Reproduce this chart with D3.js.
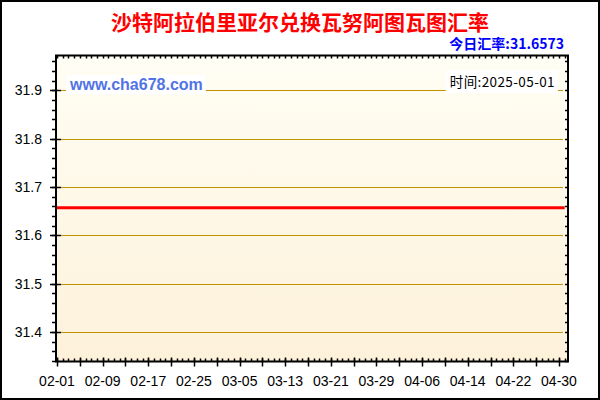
<!DOCTYPE html>
<html>
<head>
<meta charset="utf-8">
<script src="https://cdn.jsdelivr.net/npm/d3@7"></script>
<style>
  body { margin: 0; background: #fff; }
</style>
</head>
<body>
<div id="chart"></div>
<script>
// chart data
const title = "沙特阿拉伯里亚尔兑换瓦努阿图瓦图汇率";
const rateText = "今日汇率:31.6573";
const stampText = "时间:2025-05-01";
const siteText = "www.cha678.com";
const dates = ["2025-02-01", "2025-05-01"]; // rate is flat over the whole period
const rates = [31.6573, 31.6573];
const yTicks = [31.4, 31.5, 31.6, 31.7, 31.8, 31.9];
const xTickLabels = ["02-01", "02-09", "02-17", "02-25", "03-05", "03-13",
                     "03-21", "03-29", "04-06", "04-14", "04-22", "04-30"];

const W = 600, H = 400;
const box = { left: 56, right: 568, top: 55.5, bottom: 361.5 }; // plot frame, in pixels

const parse = d3.utcParse("%Y-%m-%d");
const points = dates.map((d, i) => ({ date: parse(d), rate: rates[i] }));

const x = d3.scaleUtc()
  .domain([parse("2025-02-01"), parse("2025-05-01")])
  .range([57, 564.7]);
const y = d3.scaleLinear()
  .domain([31.339, 31.972])
  .range([box.bottom, box.top]);

const svg = d3.select("#chart")
  .append("svg")
  .attr("width", W)
  .attr("height", H)
  .attr("viewBox", `0 0 ${W} ${H}`);

// background gradient of the plot area
const grad = svg.append("defs").append("linearGradient")
  .attr("id", "bg")
  .attr("x1", 0).attr("y1", 0).attr("x2", 0).attr("y2", 1);
grad.append("stop").attr("offset", "0%").attr("stop-color", "#fffef4");
grad.append("stop").attr("offset", "100%").attr("stop-color", "#fdf1da");

svg.append("rect")
  .attr("x", box.left).attr("y", box.top)
  .attr("width", box.right - box.left).attr("height", box.bottom - box.top)
  .attr("fill", "url(#bg)");

// grid lines
svg.append("g")
  .selectAll("line")
  .data(yTicks)
  .join("line")
  .attr("x1", 58).attr("x2", 563)
  .attr("y1", d => Math.round(y(d)) + 0.5)
  .attr("y2", d => Math.round(y(d)) + 0.5)
  .attr("stroke", "#c39000")
  .attr("stroke-width", 1);

// texts with white boxes inside the plot
const site = svg.append("text")
  .attr("x", 70).attr("y", 90)
  .attr("font-family", "Liberation Sans, Arial, sans-serif")
  .attr("font-weight", "bold")
  .attr("font-size", 16)
  .attr("fill", "#5273e6")
  .text(siteText);
const sb = site.node().getBBox();
svg.insert("rect", "text")
  .attr("x", sb.x - 3).attr("y", sb.y - 1)
  .attr("width", sb.width + 6).attr("height", sb.height + 2)
  .attr("fill", "#fff");

const stamp = svg.append("text")
  .attr("x", 555).attr("y", 87)
  .attr("text-anchor", "end")
  .attr("font-family", "Noto Sans CJK SC, sans-serif")
  .attr("font-size", 13.5)
  .attr("letter-spacing", 0.4)
  .attr("fill", "#000")
  .text(stampText);
const tb = stamp.node().getBBox();
svg.insert("rect", "text")
  .attr("x", tb.x - 4).attr("y", tb.y - 1)
  .attr("width", tb.width + 7).attr("height", tb.height + 3)
  .attr("fill", "#fff");

// rate line
svg.append("path")
  .datum(points)
  .attr("fill", "none")
  .attr("stroke", "#ff0000")
  .attr("stroke-width", 3)
  .attr("d", d3.line().x(d => x(d.date)).y(d => y(d.rate)));

// frame
svg.append("rect")
  .attr("x", box.left).attr("y", box.top)
  .attr("width", box.right - box.left).attr("height", box.bottom - box.top)
  .attr("fill", "none")
  .attr("stroke", "#000")
  .attr("stroke-width", 2);

const ticks = svg.append("g").attr("stroke", "#000").attr("stroke-width", 1.5);

// left and right axis ticks, every 0.02
const minorY = y.ticks(30);
ticks.selectAll(".yl")
  .data(minorY)
  .join("line")
  .attr("class", "yl")
  .attr("x1", box.left - 4).attr("x2", box.left)
  .attr("y1", d => Math.round(y(d)) + 0.5).attr("y2", d => Math.round(y(d)) + 0.5);
ticks.selectAll(".yr")
  .data(minorY)
  .join("line")
  .attr("class", "yr")
  .attr("x1", box.right - 3).attr("x2", box.right)
  .attr("y1", d => Math.round(y(d)) + 0.5).attr("y2", d => Math.round(y(d)) + 0.5);
ticks.selectAll(".ymaj")
  .data(yTicks)
  .join("line")
  .attr("class", "ymaj")
  .attr("x1", box.left - 6).attr("x2", box.left + 5)
  .attr("y1", d => Math.round(y(d)) + 0.5).attr("y2", d => Math.round(y(d)) + 0.5);

// top and bottom axis ticks, daily, longer every 4 days
const days = d3.utcDay.range(x.domain()[0], d3.utcDay.offset(x.domain()[1], 1));
ticks.selectAll(".xt")
  .data(days)
  .join("line")
  .attr("class", "xt")
  .attr("x1", d => Math.round(x(d)) + 0.5).attr("x2", d => Math.round(x(d)) + 0.5)
  .attr("y1", box.top).attr("y2", box.top + 3);
ticks.selectAll(".xb")
  .data(days)
  .join("line")
  .attr("class", "xb")
  .attr("x1", d => Math.round(x(d)) + 0.5).attr("x2", d => Math.round(x(d)) + 0.5)
  .attr("y1", box.bottom - 3).attr("y2", box.bottom);
ticks.selectAll(".xmaj")
  .data(days.filter((d, i) => i % 4 === 0))
  .join("line")
  .attr("class", "xmaj")
  .attr("x1", d => Math.round(x(d)) + 0.5).attr("x2", d => Math.round(x(d)) + 0.5)
  .attr("y1", box.bottom - 4).attr("y2", box.bottom + 5);

// axis labels
svg.append("g")
  .attr("font-family", "Liberation Sans, Arial, sans-serif")
  .attr("font-size", 14)
  .attr("fill", "#000")
  .attr("text-anchor", "end")
  .selectAll("text")
  .data(yTicks)
  .join("text")
  .attr("x", 42)
  .attr("y", d => y(d) + 5)
  .text(d => d3.format(".1f")(d));

svg.append("g")
  .attr("font-family", "Liberation Sans, Arial, sans-serif")
  .attr("font-size", 14)
  .attr("fill", "#000")
  .attr("text-anchor", "middle")
  .selectAll("text")
  .data(xTickLabels)
  .join("text")
  .attr("x", d => x(parse("2025-" + d)))
  .attr("y", 386)
  .text(d => d);

// title and today's rate
svg.append("text")
  .attr("x", 300).attr("y", 30)
  .attr("text-anchor", "middle")
  .attr("font-family", "Noto Sans CJK SC, sans-serif")
  .attr("font-weight", "bold")
  .attr("font-size", 21)
  .attr("fill", "#ff0000")
  .text(title);

svg.append("text")
  .attr("x", 564).attr("y", 49)
  .attr("text-anchor", "end")
  .attr("font-family", "Noto Sans CJK SC, sans-serif")
  .attr("font-weight", "bold")
  .attr("font-size", 14)
  .attr("fill", "#0000ff")
  .text(rateText);

// outer border
svg.append("rect")
  .attr("x", 1).attr("y", 1)
  .attr("width", W - 2).attr("height", H - 2)
  .attr("fill", "none")
  .attr("stroke", "#000")
  .attr("stroke-width", 2);
</script>
</body>
</html>
